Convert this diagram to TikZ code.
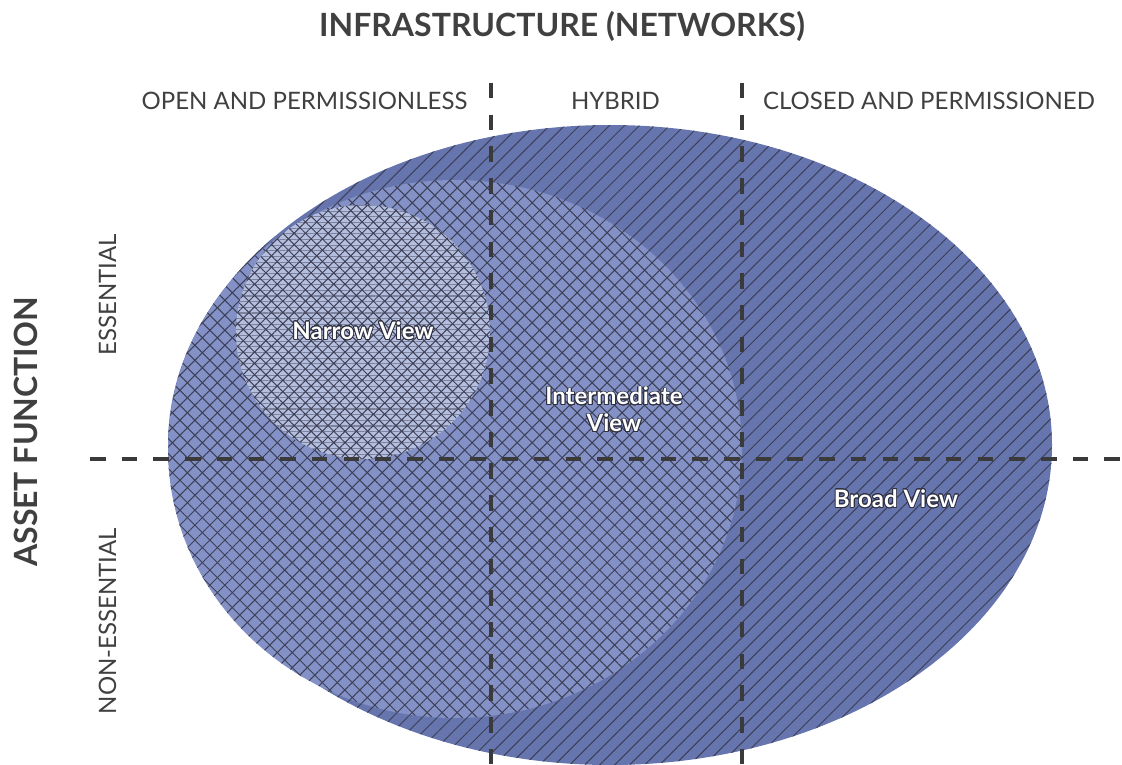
\documentclass[tikz,border=0pt]{standalone}
\usepackage{fontspec}
\setmainfont{Lato}
\usepackage{contour}
\contourlength{0.8pt}
\contournumber{20}
\usetikzlibrary{patterns.meta}
\definecolor{broadfill}{HTML}{6675AE}
\definecolor{interfill}{HTML}{8391C6}
\definecolor{narrowfill}{HTML}{B4BEDE}
\definecolor{hatch}{HTML}{3C3F55}
\definecolor{hline}{HTML}{7C829C}
\definecolor{txt}{HTML}{404040}
\definecolor{dashc}{HTML}{3A3A3A}
\definecolor{lbledge}{HTML}{2E3040}
\tikzset{
  dashline/.style={draw=dashc, line width=3.8pt, dash pattern=on 15.5pt off 16.2pt},
  diagA/.style={pattern={Lines[angle=45,distance=10.6pt,line width=1.0pt]}, pattern color=hatch},
  diagB/.style={pattern={Lines[angle=-45,distance=10.6pt,line width=1.0pt]}, pattern color=hatch},
  ndiagA/.style={pattern={Lines[angle=45,distance=8pt,line width=1.0pt]}, pattern color=hatch},
  ndiagB/.style={pattern={Lines[angle=-45,distance=8pt,line width=1.0pt]}, pattern color=hatch},
  horiz/.style={pattern={Lines[angle=0,distance=5.65pt,line width=1.1pt]}, pattern color=hline},
  bigtitle/.style={text=txt, font=\bfseries\fontsize{32}{38}\selectfont, inner sep=0pt},
  axislbl/.style={text=txt, font=\fontsize{24}{29}\selectfont, inner sep=0pt},
  viewlbl/.style={text=white, font=\bfseries\fontsize{24}{27}\selectfont, inner sep=0pt, align=center},
}
\begin{document}
\begin{tikzpicture}[x=1pt,y=-1pt]
\useasboundingbox (0,0) rectangle (1122,765);
% Broad view
\fill[broadfill] (610,445) ellipse [x radius=442, y radius=320];
\path[diagA] (610,445) ellipse [x radius=442, y radius=320];
% Intermediate view
\fill[interfill] (455,449) ellipse [x radius=287, y radius=269];
\path[diagA] (455,449) ellipse [x radius=287, y radius=269];
\path[diagB] (455,449) ellipse [x radius=287, y radius=269];
% Narrow view
\fill[narrowfill] (363,332) circle [radius=127];
\path[horiz] (363,332) circle [radius=127];
\path[ndiagA] (363,332) circle [radius=127];
\path[ndiagB] (363,332) circle [radius=127];
% dashed axes
\coordinate (v1t) at (491,83);
\coordinate (v1b) at (491,770);
\coordinate (v2t) at (742,83);
\coordinate (v2b) at (742,770);
\coordinate (hl) at (90,459);
\coordinate (hr) at (1125,459);
\draw[dashline] (hl) -- (hr);
\draw[dashline] (v1t) -- (v1b);
\draw[dashline] (v2t) -- (v2b);
% titles
\node[bigtitle] (title) at (562,26) {INFRASTRUCTURE (NETWORKS)};
\node[bigtitle, rotate=90] (asset) at (26,432) {ASSET FUNCTION};
\node[axislbl] (open) at (304.5,101) {OPEN AND PERMISSIONLESS};
\node[axislbl] (hybrid) at (615.5,101) {HYBRID};
\node[axislbl] (closed) at (929,101) {CLOSED AND PERMISSIONED};
\node[axislbl, rotate=90] (ess) at (107.5,295) {ESSENTIAL};
\node[axislbl, rotate=90] (ness) at (107.5,621) {NON-ESSENTIAL};
% view labels
\node[viewlbl] (narrow) at (363,331) {\contour{lbledge}{Narrow View}};
\node[viewlbl] (inter) at (614,410) {\contour{lbledge}{Intermediate}\\\contour{lbledge}{View}};
\node[viewlbl] (broad) at (896,499) {\contour{lbledge}{Broad View}};
\end{tikzpicture}
\end{document}
